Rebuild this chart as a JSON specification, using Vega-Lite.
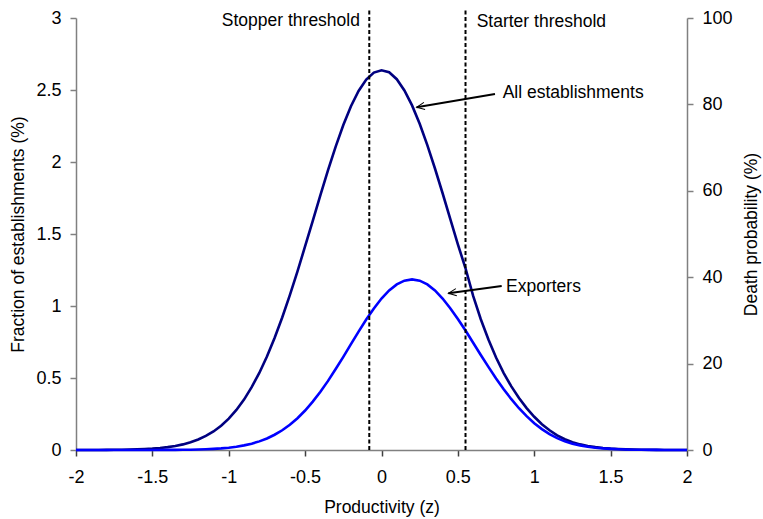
{
  "$schema": "https://vega.github.io/schema/vega-lite/v6.json",
  "width": 611,
  "height": 432,
  "autosize": {"type": "none"},
  "padding": {"left": 76, "top": 18, "right": 76, "bottom": 69},
  "background": "white",
  "config": {
    "view": {"stroke": null},
    "font": "Liberation Sans",
    "axis": {
      "grid": false,
      "labelFont": "Liberation Sans",
      "titleFont": "Liberation Sans",
      "labelFontSize": 18,
      "titleFontSize": 17.5,
      "titleFontWeight": "normal",
      "labelColor": "#000000",
      "titleColor": "#000000",
      "domainColor": "#808080",
      "tickColor": "#808080",
      "domainWidth": 1.5,
      "tickWidth": 1.5,
      "tickSize": 6,
      "labelFlush": false
    },
    "text": {"font": "Liberation Sans", "fontSize": 17.5, "color": "#000000"}
  },
  "datasets": {
    "curves": [
      {"z": -2.00, "all": 0.0001, "exporters": 0},
      {"z": -1.95, "all": 0.0002, "exporters": 0},
      {"z": -1.90, "all": 0.0003, "exporters": 0},
      {"z": -1.85, "all": 0.0005, "exporters": 0},
      {"z": -1.80, "all": 0.0008, "exporters": 0},
      {"z": -1.75, "all": 0.0013, "exporters": 0},
      {"z": -1.70, "all": 0.0020, "exporters": 0},
      {"z": -1.65, "all": 0.0030, "exporters": 0},
      {"z": -1.60, "all": 0.0045, "exporters": 0},
      {"z": -1.55, "all": 0.0066, "exporters": 0.0001},
      {"z": -1.50, "all": 0.0097, "exporters": 0.0002},
      {"z": -1.45, "all": 0.014, "exporters": 0.0003},
      {"z": -1.40, "all": 0.020, "exporters": 0.0006},
      {"z": -1.35, "all": 0.028, "exporters": 0.0009},
      {"z": -1.30, "all": 0.039, "exporters": 0.0014},
      {"z": -1.25, "all": 0.054, "exporters": 0.0022},
      {"z": -1.20, "all": 0.073, "exporters": 0.0034},
      {"z": -1.15, "all": 0.098, "exporters": 0.0051},
      {"z": -1.10, "all": 0.129, "exporters": 0.0076},
      {"z": -1.05, "all": 0.169, "exporters": 0.0112},
      {"z": -1.00, "all": 0.218, "exporters": 0.0161},
      {"z": -0.95, "all": 0.278, "exporters": 0.0229},
      {"z": -0.90, "all": 0.350, "exporters": 0.0320},
      {"z": -0.85, "all": 0.436, "exporters": 0.0441},
      {"z": -0.80, "all": 0.535, "exporters": 0.0599},
      {"z": -0.75, "all": 0.649, "exporters": 0.0801},
      {"z": -0.70, "all": 0.778, "exporters": 0.106},
      {"z": -0.65, "all": 0.920, "exporters": 0.137},
      {"z": -0.60, "all": 1.075, "exporters": 0.175},
      {"z": -0.55, "all": 1.241, "exporters": 0.221},
      {"z": -0.50, "all": 1.415, "exporters": 0.274},
      {"z": -0.45, "all": 1.592, "exporters": 0.336},
      {"z": -0.40, "all": 1.770, "exporters": 0.405},
      {"z": -0.35, "all": 1.943, "exporters": 0.480},
      {"z": -0.30, "all": 2.107, "exporters": 0.562},
      {"z": -0.25, "all": 2.257, "exporters": 0.647},
      {"z": -0.20, "all": 2.387, "exporters": 0.735},
      {"z": -0.15, "all": 2.493, "exporters": 0.822},
      {"z": -0.10, "all": 2.572, "exporters": 0.906},
      {"z": -0.05, "all": 2.621, "exporters": 0.983},
      {"z": 0.00, "all": 2.637, "exporters": 1.052},
      {"z": 0.05, "all": 2.623, "exporters": 1.108},
      {"z": 0.10, "all": 2.575, "exporters": 1.150},
      {"z": 0.15, "all": 2.497, "exporters": 1.176},
      {"z": 0.20, "all": 2.393, "exporters": 1.185},
      {"z": 0.25, "all": 2.265, "exporters": 1.176},
      {"z": 0.30, "all": 2.117, "exporters": 1.150},
      {"z": 0.35, "all": 1.955, "exporters": 1.108},
      {"z": 0.40, "all": 1.783, "exporters": 1.052},
      {"z": 0.45, "all": 1.605, "exporters": 0.985},
      {"z": 0.50, "all": 1.428, "exporters": 0.910},
      {"z": 0.55, "all": 1.262, "exporters": 0.830},
      {"z": 0.60, "all": 1.070, "exporters": 0.745},
      {"z": 0.65, "all": 0.908, "exporters": 0.660},
      {"z": 0.70, "all": 0.767, "exporters": 0.577},
      {"z": 0.75, "all": 0.642, "exporters": 0.497},
      {"z": 0.80, "all": 0.534, "exporters": 0.422},
      {"z": 0.85, "all": 0.442, "exporters": 0.353},
      {"z": 0.90, "all": 0.361, "exporters": 0.290},
      {"z": 0.95, "all": 0.291, "exporters": 0.235},
      {"z": 1.00, "all": 0.231, "exporters": 0.186},
      {"z": 1.05, "all": 0.179, "exporters": 0.145},
      {"z": 1.10, "all": 0.137, "exporters": 0.110},
      {"z": 1.15, "all": 0.102, "exporters": 0.082},
      {"z": 1.20, "all": 0.075, "exporters": 0.060},
      {"z": 1.25, "all": 0.054, "exporters": 0.044},
      {"z": 1.30, "all": 0.039, "exporters": 0.032},
      {"z": 1.35, "all": 0.028, "exporters": 0.023},
      {"z": 1.40, "all": 0.020, "exporters": 0.016},
      {"z": 1.45, "all": 0.014, "exporters": 0.011},
      {"z": 1.50, "all": 0.0097, "exporters": 0.0076},
      {"z": 1.55, "all": 0.0066, "exporters": 0.0051},
      {"z": 1.60, "all": 0.0045, "exporters": 0.0034},
      {"z": 1.65, "all": 0.0030, "exporters": 0.0022},
      {"z": 1.70, "all": 0.0020, "exporters": 0.0014},
      {"z": 1.75, "all": 0.0013, "exporters": 0.0009},
      {"z": 1.80, "all": 0.0008, "exporters": 0.0006},
      {"z": 1.85, "all": 0.0005, "exporters": 0.0003},
      {"z": 1.90, "all": 0.0003, "exporters": 0.0002},
      {"z": 1.95, "all": 0.0002, "exporters": 0.0001},
      {"z": 2.00, "all": 0.0001, "exporters": 0.0001}
    ],
    "thresholds": [
      {"name": "Stopper threshold", "z": -0.08},
      {"name": "Starter threshold", "z": 0.55}
    ],
    "thresholdLabels": [
      {"text": "Stopper threshold", "z": -0.141, "v": 2.98, "side": "left"},
      {"text": "Starter threshold", "z": 0.623, "v": 2.97, "side": "right"}
    ],
    "callouts": [
      {"text": "All establishments", "tipZ": 0.230, "tipV": 2.380, "tailZ": 0.743, "tailV": 2.472, "labelZ": 0.793, "labelV": 2.477},
      {"text": "Exporters", "tipZ": 0.438, "tipV": 1.088, "tailZ": 0.787, "tailV": 1.139, "labelZ": 0.815, "labelV": 1.134}
    ],
    "deathAxis": [
      {"death": 0},
      {"death": 100}
    ]
  },
  "layer": [
    {
      "layer": [
        {
          "data": {"name": "curves"},
          "transform": [{"fold": ["all", "exporters"], "as": ["series", "value"]}],
          "mark": {"type": "line", "strokeWidth": 2.6, "interpolate": "linear"},
          "encoding": {
            "x": {
              "field": "z",
              "type": "quantitative",
              "scale": {"domain": [-2, 2], "nice": false},
              "axis": {
                "title": "Productivity (z)",
                "values": [-2, -1.5, -1, -0.5, 0, 0.5, 1, 1.5, 2],
                "labelExpr": "toString(datum.value)",
                "labelPadding": 12,
                "titlePadding": 12,
                "tickColor": "#404040",
                "domainColor": "#808080"
              }
            },
            "y": {
              "field": "value",
              "type": "quantitative",
              "scale": {"domain": [0, 3], "nice": false},
              "axis": {
                "title": "Fraction of establishments (%)",
                "values": [0, 0.5, 1, 1.5, 2, 2.5, 3],
                "format": "~g",
                "labelPadding": 9,
                "titlePadding": 8
              }
            },
            "color": {
              "field": "series",
              "type": "nominal",
              "scale": {"domain": ["all", "exporters"], "range": ["#000080", "#0000FF"]},
              "legend": null
            },
            "order": {"field": "z", "type": "quantitative"}
          }
        },
        {
          "data": {"name": "thresholds"},
          "mark": {"type": "rule", "color": "#000000", "strokeWidth": 2, "strokeDash": [4, 2.5]},
          "encoding": {
            "x": {"field": "z", "type": "quantitative"},
            "y": {"datum": 0},
            "y2": {"datum": 3.07}
          }
        },
        {
          "data": {"name": "thresholdLabels"},
          "transform": [{"filter": "datum.side === 'left'"}],
          "mark": {"type": "text", "align": "right", "baseline": "middle"},
          "encoding": {
            "x": {"field": "z", "type": "quantitative"},
            "y": {"field": "v", "type": "quantitative"},
            "text": {"field": "text"}
          }
        },
        {
          "data": {"name": "thresholdLabels"},
          "transform": [{"filter": "datum.side === 'right'"}],
          "mark": {"type": "text", "align": "left", "baseline": "middle"},
          "encoding": {
            "x": {"field": "z", "type": "quantitative"},
            "y": {"field": "v", "type": "quantitative"},
            "text": {"field": "text"}
          }
        },
        {
          "data": {"name": "callouts"},
          "mark": {"type": "rule", "color": "#000000", "strokeWidth": 2},
          "encoding": {
            "x": {"field": "tipZ", "type": "quantitative"},
            "y": {"field": "tipV", "type": "quantitative"},
            "x2": {"field": "tailZ"},
            "y2": {"field": "tailV"}
          }
        },
        {
          "data": {"name": "callouts"},
          "transform": [{"filter": "datum.text === 'All establishments'"}],
          "mark": {"type": "point", "shape": "M 1 -0.45 L 0 0 L 1 0.45", "filled": false, "stroke": "#000000", "strokeWidth": 1, "size": 256, "angle": 350.4, "opacity": 1},
          "encoding": {
            "x": {"field": "tipZ", "type": "quantitative"},
            "y": {"field": "tipV", "type": "quantitative"}
          }
        },
        {
          "data": {"name": "callouts"},
          "transform": [{"filter": "datum.text === 'Exporters'"}],
          "mark": {"type": "point", "shape": "M 1 -0.45 L 0 0 L 1 0.45", "filled": false, "stroke": "#000000", "strokeWidth": 1, "size": 256, "angle": 352.2, "opacity": 1},
          "encoding": {
            "x": {"field": "tipZ", "type": "quantitative"},
            "y": {"field": "tipV", "type": "quantitative"}
          }
        },
        {
          "data": {"name": "callouts"},
          "mark": {"type": "text", "align": "left", "baseline": "middle"},
          "encoding": {
            "x": {"field": "labelZ", "type": "quantitative"},
            "y": {"field": "labelV", "type": "quantitative"},
            "text": {"field": "text"}
          }
        }
      ]
    },
    {
      "data": {"name": "deathAxis"},
      "mark": {"type": "point", "opacity": 0},
      "encoding": {
        "y": {
          "field": "death",
          "type": "quantitative",
          "scale": {"domain": [0, 100], "nice": false},
          "axis": {
            "orient": "right",
            "title": "Death probability (%)",
            "values": [0, 20, 40, 60, 80, 100],
            "titleAngle": 270,
            "titleBaseline": "top",
            "labelPadding": 9,
            "titlePadding": 10
          }
        }
      }
    }
  ],
  "resolve": {"scale": {"y": "independent"}}
}
